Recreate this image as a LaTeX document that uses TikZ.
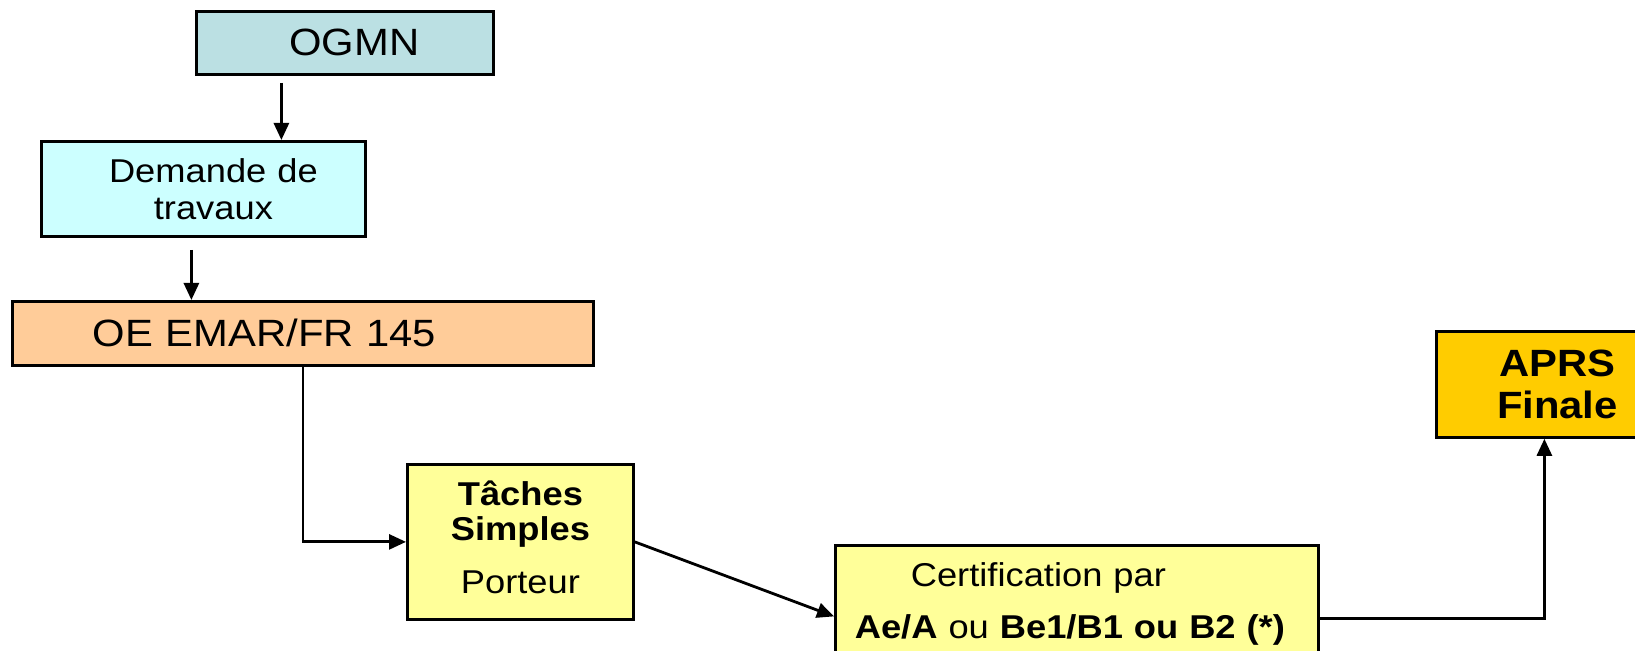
\documentclass[tikz,border=0pt]{standalone}
\usepackage{fontspec}
\setmainfont{Liberation Sans}[FakeStretch=1.1]
\usetikzlibrary{arrows.meta}
\definecolor{mteal}{RGB}{187,224,227}
\definecolor{mcyan}{RGB}{204,255,255}
\definecolor{mpeach}{RGB}{255,204,153}
\definecolor{myellow}{RGB}{255,255,153}
\definecolor{mgold}{RGB}{255,204,0}
\newcommand{\txtlarge}{\fontsize{19pt}{21pt}\selectfont}
\newcommand{\txtnormal}{\fontsize{16.5pt}{18.5pt}\selectfont}
\tikzset{box/.style = {draw, line width=1.4pt, anchor=north west,
                       inner xsep=0pt, inner ysep=0pt, align=center},
         arr/.style = {line width=1.4pt, -{Triangle[length=8.5pt, width=7.5pt]}}}

\begin{document}
\begin{tikzpicture}[x=0.5pt, y=-0.5pt]
      \useasboundingbox (0, 0) rectangle (1635, 651);

      \node [box, fill=mteal, text width=148.5pt, minimum height=31.5pt, font=\txtlarge]
            (ogmn) at (195, 10) {\hspace*{9.5pt}OGMN};
      \node [box, fill=mcyan, text width=162pt, minimum height=47.5pt, font=\txtnormal]
            (demande) at (40, 140) {\hspace*{10pt}Demande de\\\hspace*{10pt}travaux};
      \node [box, fill=mpeach, text width=290.5pt, minimum height=32pt, font=\txtlarge]
            (oe) at (11, 300) {\hspace*{-38.5pt}OE EMAR/FR 145};
      \node [box, fill=myellow, text width=113pt, minimum height=77.5pt,
             font=\fontsize{16.5pt}{17.5pt}\selectfont]
            (taches) at (406, 463) {\textbf{Tâches}\\\textbf{Simples}\\[9pt]Porteur\rule[-5pt]{0pt}{0pt}};
      \node [box, fill=myellow, text width=241.5pt, minimum height=58.5pt,
             font=\fontsize{16.5pt}{26pt}\selectfont]
            (cert) at (834, 544) {\hspace*{-38.5pt}Certification par\\
                                  \hspace*{-7pt}\textbf{Ae/A} ou \textbf{Be1/B1 ou B2 (*)}};
      \node [box, fill=mgold, text width=121pt, minimum height=53pt,
             font=\fontsize{19pt}{21pt}\selectfont\bfseries]
            (aprs) at (1435, 330) {APRS\\Finale};

      \draw [arr, shorten <=3.5pt] ([xshift=-31.75pt]ogmn.south)
            -- ([xshift=-31.75pt]ogmn.south |- demande.north);
      \draw [arr, shorten <=6pt] ([xshift=-6pt]demande.south)
            -- ([xshift=-6pt]demande.south |- oe.north);
      \draw [arr] (oe.south) |- (taches.west);
      \draw [arr] (taches.east) -- ([yshift=-6.25pt]cert.west);
      \draw [arr] ([yshift=-7.25pt]cert.east) -| ([xshift=-6.5pt]aprs.south);
\end{tikzpicture}
\end{document}
